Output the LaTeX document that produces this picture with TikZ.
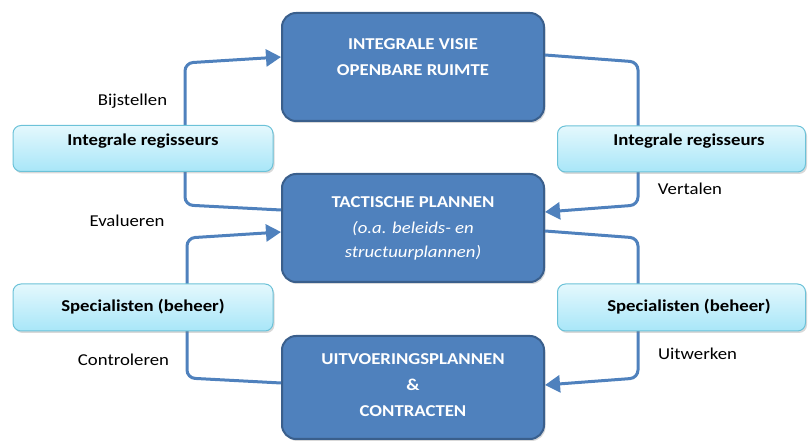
\documentclass[tikz,border=0pt]{standalone}
\usepackage{fontspec}
\setmainfont{Carlito}[FakeStretch=1.13]
\usetikzlibrary{arrows.meta,shadows}
\definecolor{lineblue}{HTML}{4F81BD}
\definecolor{boxblue}{HTML}{4F81BD}
\definecolor{boxborder}{HTML}{3A5F8C}
\definecolor{lighttop}{HTML}{E4F8FD}
\definecolor{lightbot}{HTML}{A8E6F8}
\definecolor{lightborder}{HTML}{6CC2D8}
\begin{document}
\begin{tikzpicture}[x=1pt,y=-1pt,
  mainbox/.style={draw=boxborder, line width=2pt, fill=boxblue, rounded corners=14pt,
    minimum width=262pt, inner sep=0pt,
    drop shadow={shadow xshift=1.5pt,shadow yshift=-2pt,opacity=0.3}},
  lightbox/.style={draw=lightborder, line width=1pt, top color=lighttop, bottom color=lightbot,
    rounded corners=8pt, minimum height=46pt, inner sep=0pt,
    drop shadow={shadow xshift=1.5pt,shadow yshift=-2pt,opacity=0.3}},
  boxtext/.style={text=white, font=\fontsize{16.6}{20}\selectfont\bfseries, anchor=base, inner sep=0pt},
  subtext/.style={text=white, font=\fontsize{16.6}{20}\selectfont\itshape, anchor=base, inner sep=0pt},
  lighttext/.style={text=black, font=\fontsize{16.6}{20}\selectfont\bfseries, anchor=base, inner sep=0pt},
  lbl/.style={text=black, font=\fontsize{16.6}{20}\selectfont, anchor=base, inner sep=0pt},
  conn/.style={draw=lineblue, line width=3pt, rounded corners=8pt},
  arr/.style={conn, -{Triangle[length=15pt,width=17pt]}}
]
\useasboundingbox (0,0) rectangle (812,443);

% main boxes
\node[mainbox, minimum height=108pt] (visie) at (413,67) {};
\node[mainbox, minimum height=108pt] (tact) at (413,228) {};
\node[mainbox, minimum height=103pt] (uitv) at (413,387.5) {};

\node[boxtext] (v1) at (413,50) {INTEGRALE VISIE};
\node[boxtext] (v2) at (413,76) {OPENBARE RUIMTE};
\node[boxtext] (t1) at (413,208) {TACTISCHE PLANNEN};
\node[subtext] (t2) at (413,234) {(o.a. beleids- en};
\node[subtext] (t3) at (413,258) {structuurplannen)};
\node[boxtext] (u1) at (413,365) {UITVOERINGSPLANNEN};
\node[boxtext] (u2) at (413,391) {\&};
\node[boxtext] (u3) at (413,417) {CONTRACTEN};

% connectors
\draw[arr] ([yshift=18pt]tact.west) -- (185,205) -- (185,63) -- ([yshift=10pt]visie.west);
\draw[arr] ([yshift=12pt]visie.east) -- (638,62) -- (638,205) -- ([yshift=16pt]tact.east);
\draw[arr] ([yshift=4.5pt]uitv.west) -- (187,378) -- (187,238) -- ([yshift=-4pt]tact.west);
\draw[arr] ([yshift=-3pt]tact.east) -- (638,238) -- (638,378) -- ([yshift=2.5pt]uitv.east);

% light boxes
\node[lightbox, minimum width=260pt] (ir1) at (143,148.5) {};
\node[lightbox, minimum width=248pt] (ir2) at (681.5,149) {};
\node[lightbox, minimum width=260pt, minimum height=47pt] (sp1) at (143,307.5) {};
\node[lightbox, minimum width=248pt, minimum height=47pt] (sp2) at (681.5,307.5) {};

\node[lighttext] (ir1t) at (143,146) {Integrale regisseurs};
\node[lighttext] (ir2t) at (689,146) {Integrale regisseurs};
\node[lighttext] (sp1t) at (143,312) {Specialisten (beheer)};
\node[lighttext] (sp2t) at (689,312) {Specialisten (beheer)};

% labels
\node[lbl] (l1) at (132.5,106) {Bijstellen};
\node[lbl] (l2) at (127,227) {Evalueren};
\node[lbl] (l3) at (123.5,366) {Controleren};
\node[lbl] (l4) at (690,195) {Vertalen};
\node[lbl] (l5) at (697.5,360) {Uitwerken};
\end{tikzpicture}
\end{document}
